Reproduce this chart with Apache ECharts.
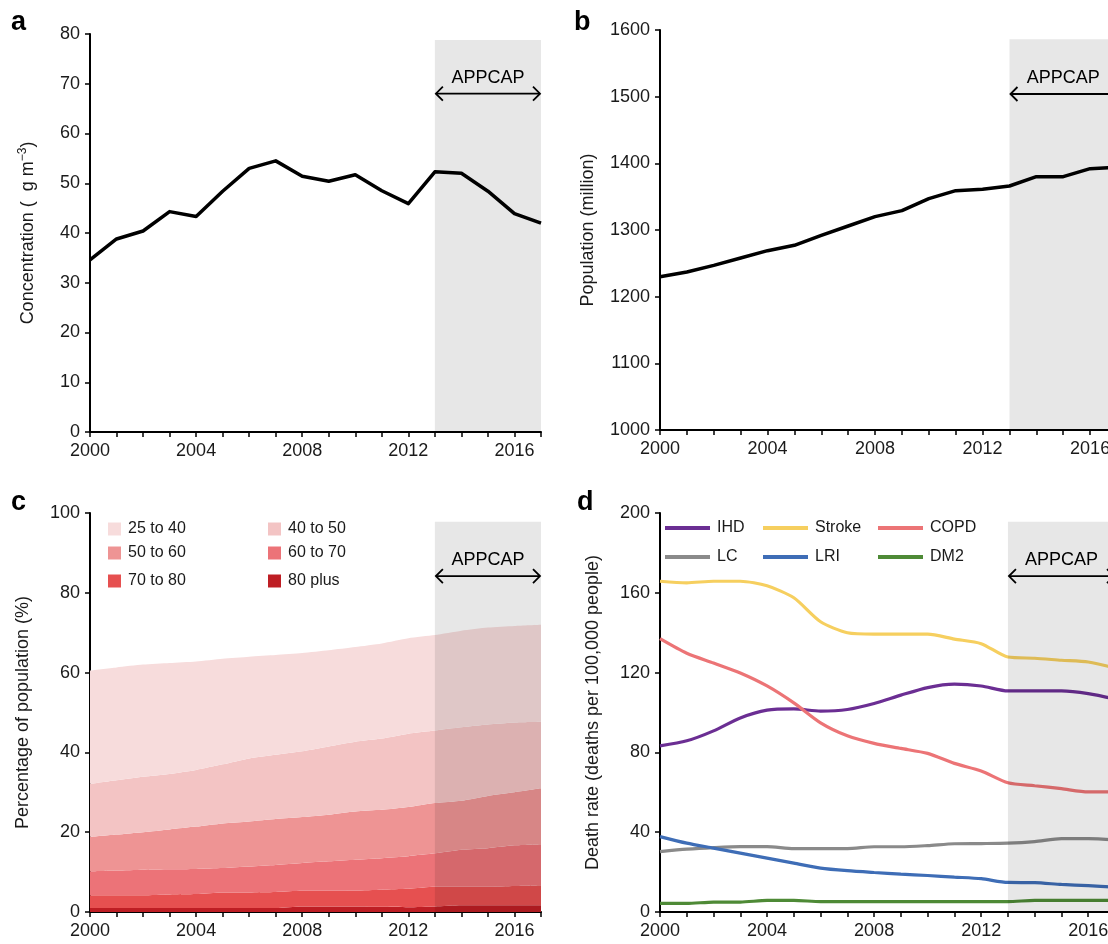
<!DOCTYPE html>
<html>
<head>
<meta charset="utf-8">
<script src="https://cdn.jsdelivr.net/npm/echarts@6/dist/echarts.min.js"></script>
<style>
html,body{margin:0;padding:0;background:#fff;overflow:hidden;}
#chart{width:1130px;height:944px;}
</style>
</head>
<body>
<div id="chart"></div>
<script>
// ---------- data ----------
const years = [2000,2001,2002,2003,2004,2005,2006,2007,2008,2009,2010,2011,2012,2013,2014,2015,2016,2017];
const appcapPeriod = [2013, 2017];

// a: PM2.5 concentration
const concentration = [34.6,38.8,40.4,44.3,43.3,48.4,53.0,54.5,51.4,50.4,51.7,48.5,45.9,52.3,52.0,48.4,43.9,42.0];
// b: population (million)
const population = [1230,1237,1247,1258,1269,1277,1292,1306,1320,1329,1347,1359,1361,1366,1380,1380,1392,1394];
// c: percentage of population by age group
const ageGroups = ['25 to 40','40 to 50','50 to 60','60 to 70','70 to 80','80 plus'];
const age25to40 = [28.4,28.3,28.1,27.8,27.2,26.5,25.5,25.0,24.6,24.1,23.7,23.8,23.9,23.9,24.2,24.3,24.2,24.3];
const age40to50 = [13.3,13.6,13.9,13.9,14.2,14.8,15.8,16.1,16.5,17.1,17.5,17.9,18.4,18.2,18.4,17.9,17.5,16.7];
const age50to60 = [8.6,9.0,9.4,10.0,10.6,11.2,11.3,11.5,11.5,11.7,12.1,12.1,12.3,12.6,12.3,13.1,13.3,14.0];
const age60to70 = [6.0,6.2,6.4,6.3,6.3,6.1,6.5,6.8,7.0,7.4,7.7,7.9,8.2,8.4,9.3,9.7,10.2,10.3];
const age70to80 = [3.2,3.2,3.2,3.4,3.5,3.9,3.9,4.0,3.9,3.9,4.0,4.3,4.6,4.9,4.6,4.6,4.8,5.0];
const age80plus = [1.0,1.0,1.0,1.0,1.0,1.0,1.0,1.0,1.4,1.4,1.4,1.3,1.2,1.4,1.7,1.7,1.7,1.7];
// d: death rates (deaths per 100,000 people)
const diseases = ['IHD','Stroke','COPD','LC','LRI','DM2'];
const ihd    = [83.3,85.8,90.8,97.3,101.2,101.8,100.7,101.5,104.5,108.7,112.5,114.2,113.3,110.8,110.8,110.8,109.5,106.8];
const stroke = [165.8,165.0,165.8,165.8,163.5,157.5,145.5,140.0,139.3,139.3,139.3,136.8,134.5,127.8,127.2,126.2,125.3,122.3];
const copd   = [137.0,129.7,124.8,119.8,113.3,104.8,94.8,88.3,84.5,82.0,79.5,74.5,70.7,64.8,63.3,61.8,60.2,60.2];
const lc     = [30.3,31.5,32.3,32.8,32.8,31.8,31.8,31.8,32.7,32.7,33.3,34.2,34.3,34.5,35.3,36.8,36.8,36.2];
const lri    = [37.8,34.5,32.0,29.5,27.0,24.5,22.0,20.7,19.8,19.0,18.3,17.5,16.7,14.8,14.7,13.8,13.2,12.5];
const dm2    = [4.3,4.3,5.0,5.0,5.8,5.8,5.2,5.2,5.2,5.2,5.2,5.2,5.2,5.2,5.8,5.8,5.8,5.8];

// ---------- styling ----------
const FONT = '"Liberation Sans", Arial, Helvetica, sans-serif';
const TXT = '#1a1a1a';
const ageColors = ['#f7dcdc','#f3c4c4','#ee9494','#ec7378','#e65050','#be1e24'];
const diseaseColors = ['#6b2e93','#f6cf5f','#ec7476','#8a8a8a','#3e6db6','#4e8a36'];

const pairs = arr => years.map((y,i)=>[y, arr[i]]);

const grids = [
  {left:90,  top:34,  width:451, height:398},
  {left:660, top:30,  width:457, height:400},
  {left:90,  top:513, width:451, height:399},
  {left:660, top:513, width:455, height:399}
];

const axisCommon = {
  axisLine:{show:true, onZero:false, lineStyle:{color:'#000', width:2}},
  axisTick:{show:true, length:5, lineStyle:{color:'#000', width:1.5}},
  splitLine:{show:false}
};
function xAxisValue(i){
  return Object.assign({
    type:'value', gridIndex:i, min:2000, max:2017, interval:1,
    axisLabel:{color:TXT, fontSize:18, fontFamily:FONT, margin:10,
      formatter:v => (v % 4 === 0 ? String(v) : '')}
  }, axisCommon);
}
function xAxisCategory(i){
  return Object.assign({}, axisCommon, {
    type:'category', gridIndex:i, data:years.map(String), boundaryGap:false,
    axisTick:{show:true, length:5, interval:0, lineStyle:{color:'#000', width:1.5}},
    axisLabel:{color:TXT, fontSize:18, fontFamily:FONT, margin:10, interval:0,
      formatter:v => (Number(v) % 4 === 0 ? v : '')}
  });
}
function yAxis(i, min, max, interval, name, gap, rich){
  return Object.assign({
    type:'value', gridIndex:i, min:min, max:max, interval:interval,
    name:name, nameLocation:'middle', nameGap:gap, nameRotate:90,
    nameTextStyle:{color:TXT, fontSize:18, fontFamily:FONT, rich:rich||{}},
    axisLabel:{color:TXT, fontSize:18, fontFamily:FONT, margin:10, formatter:v => String(v)}
  }, axisCommon);
}

// APPCAP shaded region + double arrow, positioned through the axes' scales
function appcapSeries(i, x0, x1, yMin, yTop, yArrow){
  return {
    type:'custom', xAxisIndex:i, yAxisIndex:i, z:10, silent:true,
    data:[[x0, yMin]],
    renderItem:function(params, api){
      const pTop = api.coord([x0, yTop]);
      const pBot = api.coord([x1, yMin]);
      const a0 = api.coord([x0, yArrow]);
      const a1 = api.coord([x1, yArrow]);
      const hx = 8, hy = 7;
      const stroke = {stroke:'#000', lineWidth:1.8, fill:null};
      return {
        type:'group',
        children:[
          {type:'rect', shape:{x:pTop[0], y:pTop[1], width:pBot[0]-pTop[0], height:pBot[1]-pTop[1]},
           style:{fill:'rgba(0,0,0,0.095)'}},
          {type:'line', shape:{x1:a0[0]+1, y1:a0[1], x2:a1[0]-1, y2:a1[1]}, style:stroke},
          {type:'polyline', shape:{points:[[a0[0]+hx, a0[1]-hy],[a0[0]+1, a0[1]],[a0[0]+hx, a0[1]+hy]]}, style:stroke},
          {type:'polyline', shape:{points:[[a1[0]-hx, a1[1]-hy],[a1[0]-1, a1[1]],[a1[0]-hx, a1[1]+hy]]}, style:stroke},
          {type:'text', style:{text:'APPCAP', x:(a0[0]+a1[0])/2, y:a0[1]-16,
            align:'center', verticalAlign:'middle', fill:'#000', fontSize:18, fontFamily:FONT}}
        ]
      };
    }
  };
}

const series = [];
// a
series.push({type:'line', xAxisIndex:0, yAxisIndex:0, data:pairs(concentration), symbol:'none',
  lineStyle:{color:'#000', width:3.5, join:'round'}, z:3});
series.push(appcapSeries(0, appcapPeriod[0], appcapPeriod[1], 0, 78.8, 68));
// b
series.push({type:'line', xAxisIndex:1, yAxisIndex:1, data:pairs(population), symbol:'none',
  lineStyle:{color:'#000', width:3.5, join:'round'}, z:3});
series.push(appcapSeries(1, appcapPeriod[0], appcapPeriod[1], 1000, 1586, 1504));
// c (stacked on a category axis, bottom group first)
const ageData = [age25to40, age40to50, age50to60, age60to70, age70to80, age80plus];
for (let k = ageGroups.length - 1; k >= 0; k--) {
  series.push({type:'line', name:ageGroups[k], xAxisIndex:2, yAxisIndex:2, stack:'age',
    data:ageData[k], symbol:'none', smooth:0.2,
    lineStyle:{width:0}, itemStyle:{color:ageColors[k]},
    areaStyle:{color:ageColors[k], opacity:1}, z:2});
}
series.push(appcapSeries(2, years.indexOf(appcapPeriod[0]), years.indexOf(appcapPeriod[1]), 0, 97.8, 84.2));
// d
const diseaseData = [ihd, stroke, copd, lc, lri, dm2];
diseases.forEach((d,k)=>{
  series.push({type:'line', name:d, xAxisIndex:3, yAxisIndex:3, data:pairs(diseaseData[k]),
    symbol:'none', smooth:0.25, lineStyle:{color:diseaseColors[k], width:3.2},
    itemStyle:{color:diseaseColors[k]}, z:3});
});
series.push(appcapSeries(3, appcapPeriod[0], appcapPeriod[1], 0, 195.6, 168.4));

// legends: one per item so columns align like the reference
const legends = [];
const cPos = [[108,521],[268,521],[108,545],[268,545],[108,573],[268,573]];
ageGroups.forEach((g,k)=>{
  legends.push({data:[g], left:cPos[k][0], top:cPos[k][1], padding:0,
    icon:'rect', itemWidth:13, itemHeight:13, itemGap:0, selectedMode:false,
    textStyle:{color:TXT, fontSize:16, fontFamily:FONT, padding:[0,0,0,2]}});
});
const dPos = [[665,520],[763,520],[878,520],[665,549],[763,549],[878,549]];
diseases.forEach((d,k)=>{
  legends.push({data:[d], left:dPos[k][0], top:dPos[k][1], padding:0,
    icon:'rect', itemWidth:45, itemHeight:4, itemGap:0, selectedMode:false,
    textStyle:{color:TXT, fontSize:16, fontFamily:FONT, padding:[0,0,0,2]}});
});

const panelLetters = [['a',11,9],['b',574,9],['c',11,489],['d',577,489]].map(p=>({
  type:'text', x:p[1], y:p[2],
  style:{text:p[0], fontSize:27, fontWeight:'bold', fontFamily:FONT, fill:'#000',
    align:'left', verticalAlign:'top'}
}));

const option = {
  backgroundColor:'#fff',
  animation:false,
  textStyle:{fontFamily:FONT},
  grid:grids,
  xAxis:[xAxisValue(0), xAxisValue(1), xAxisCategory(2), xAxisValue(3)],
  yAxis:[
    yAxis(0, 0, 80, 10, 'Concentration (  g m{sup|\u22123})', 51,
      {sup:{fontSize:12, fontFamily:FONT, color:TXT, padding:[0,0,10,0]}}),
    yAxis(1, 1000, 1600, 100, 'Population (million)', 63),
    yAxis(2, 0, 100, 20, 'Percentage of population (%)', 58),
    yAxis(3, 0, 200, 40, 'Death rate (deaths per 100,000 people)', 58)
  ],
  legend:legends,
  graphic:panelLetters,
  series:series
};

const chart = echarts.init(document.getElementById('chart'), null, {renderer:'canvas'});
chart.setOption(option);
</script>
</body>
</html>
